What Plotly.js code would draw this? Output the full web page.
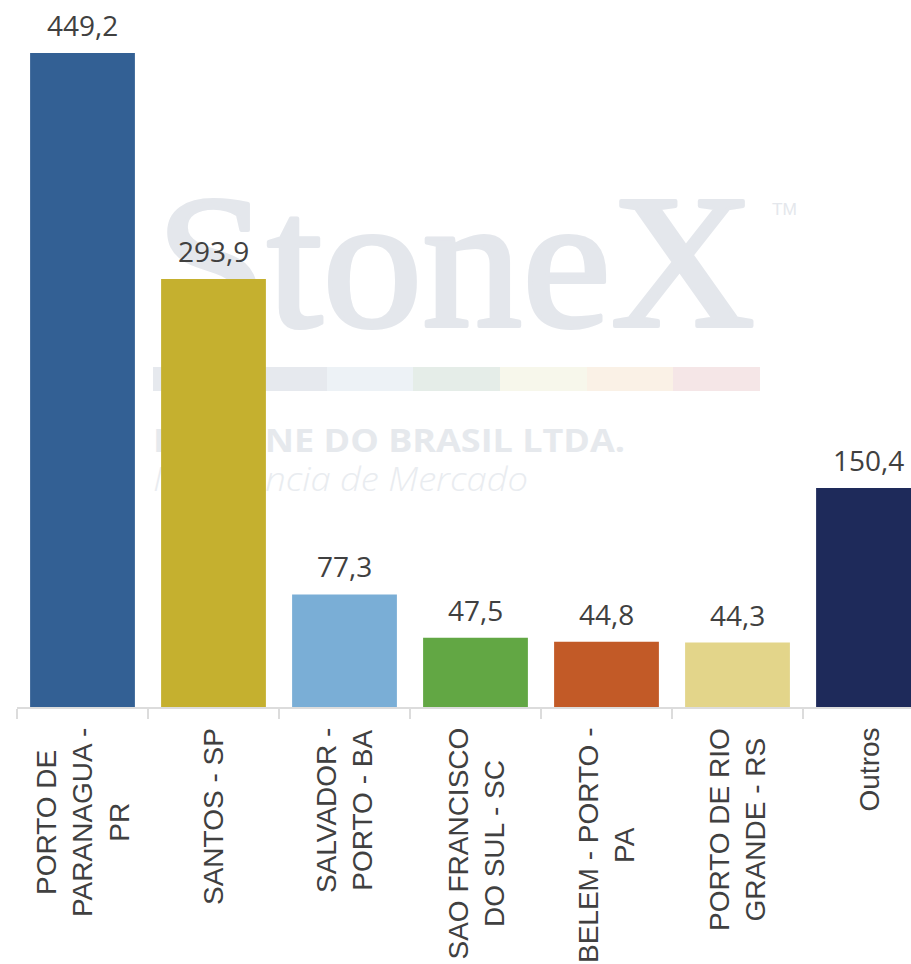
<!DOCTYPE html>
<html>
<head>
<meta charset="utf-8">
<script src="https://cdn.plot.ly/plotly-3.0.1.min.js"></script>
<style>
  html, body { margin:0; padding:0; background:#ffffff; }
  #wrap { position:relative; width:911px; height:964px; overflow:hidden; }
  #wm { position:absolute; left:0; top:0; z-index:0; }
  #chart { position:absolute; left:0; top:0; width:911px; height:964px; z-index:1; }
</style>
</head>
<body>
<div id="wrap">
  <svg id="wm" width="911" height="964" xmlns="http://www.w3.org/2000/svg">
    <text x="156" y="326" font-family="Liberation Serif, serif" font-size="190" fill="#e4e7ec" stroke="#e4e7ec" stroke-width="4" stroke-linejoin="round" textLength="599" lengthAdjust="spacingAndGlyphs">StoneX</text>
    <text x="772" y="215" font-family="Liberation Sans, sans-serif" font-size="17" fill="#e4e7ec" textLength="25" lengthAdjust="spacingAndGlyphs">TM</text>
    <rect x="153" y="367" width="174" height="24" fill="#e6e9ee"/>
    <rect x="327" y="367" width="86" height="24" fill="#edf2f6"/>
    <rect x="413" y="367" width="87" height="24" fill="#e5ede8"/>
    <rect x="500" y="367" width="87" height="24" fill="#f7f7eb"/>
    <rect x="587" y="367" width="86" height="24" fill="#faf1e6"/>
    <rect x="673" y="367" width="87" height="24" fill="#f5e6e7"/>
    <text x="153" y="452" font-family="Open Sans, sans-serif" font-weight="bold" font-size="33" fill="#e6e9ed" textLength="472" lengthAdjust="spacingAndGlyphs">FCSTONE DO BRASIL LTDA.</text>
    <text x="153" y="491" font-family="Open Sans, sans-serif" font-style="italic" font-weight="300" font-size="33" fill="#e9ecf0" textLength="375" lengthAdjust="spacingAndGlyphs">Inteligência de Mercado</text>
  </svg>
  <div id="chart"></div>
</div>
<script>
const categories = [
  "PORTO DE<br>PARANAGUA -<br>PR",
  "SANTOS - SP",
  "SALVADOR -<br>PORTO - BA",
  "SAO FRANCISCO<br>DO SUL - SC",
  "BELEM - PORTO -<br>PA",
  "PORTO DE RIO<br>GRANDE - RS",
  "Outros"
];
const values = [449.2, 293.9, 77.3, 47.5, 44.8, 44.3, 150.4];
const barColors = ["#336094", "#c5b02f", "#7aaed6", "#62a744", "#c25a27", "#e3d58a", "#1e2a5a"];

const fmt = v => v.toFixed(1).replace('.', ',');

const trace = {
  type: 'bar',
  x: categories,
  y: values,
  marker: { color: barColors },
  hoverinfo: 'skip',
  showlegend: false
};

const annotations = [];
categories.forEach((c, i) => {
  annotations.push({
    x: c, y: values[i], xref: 'x', yref: 'y',
    text: fmt(values[i]), showarrow: false,
    xanchor: 'center', yanchor: 'bottom', yshift: 7,
    font: { family: 'Open Sans, sans-serif', size: 28, color: '#404040' }
  });
  annotations.push({
    x: c, y: 0, xref: 'x', yref: 'y',
    text: c, showarrow: false, textangle: -90, align: 'center',
    xanchor: 'center', yanchor: 'top', yshift: -19,
    font: { family: 'Liberation Sans, Arial, sans-serif', size: 28, color: '#404040' }
  });
});

const layout = {
  width: 911, height: 964,
  margin: { l: 17, r: 0, t: 0, b: 257, pad: 0 },
  paper_bgcolor: 'rgba(0,0,0,0)',
  plot_bgcolor: 'rgba(0,0,0,0)',
  bargap: 0.2,
  xaxis: {
    type: 'category',
    range: [-0.5, 6.3244],
    showticklabels: false,
    showline: true, linecolor: '#dcdcdc', linewidth: 2,
    ticks: 'outside', tickson: 'boundaries', ticklen: 10, tickwidth: 2, tickcolor: '#dcdcdc',
    showgrid: false, zeroline: false, fixedrange: true
  },
  yaxis: {
    range: [0, 485.6],
    visible: false, showgrid: false, zeroline: false, fixedrange: true
  },
  annotations: annotations
};

Plotly.newPlot('chart', [trace], layout, { displayModeBar: false, staticPlot: true });
</script>
</body>
</html>
